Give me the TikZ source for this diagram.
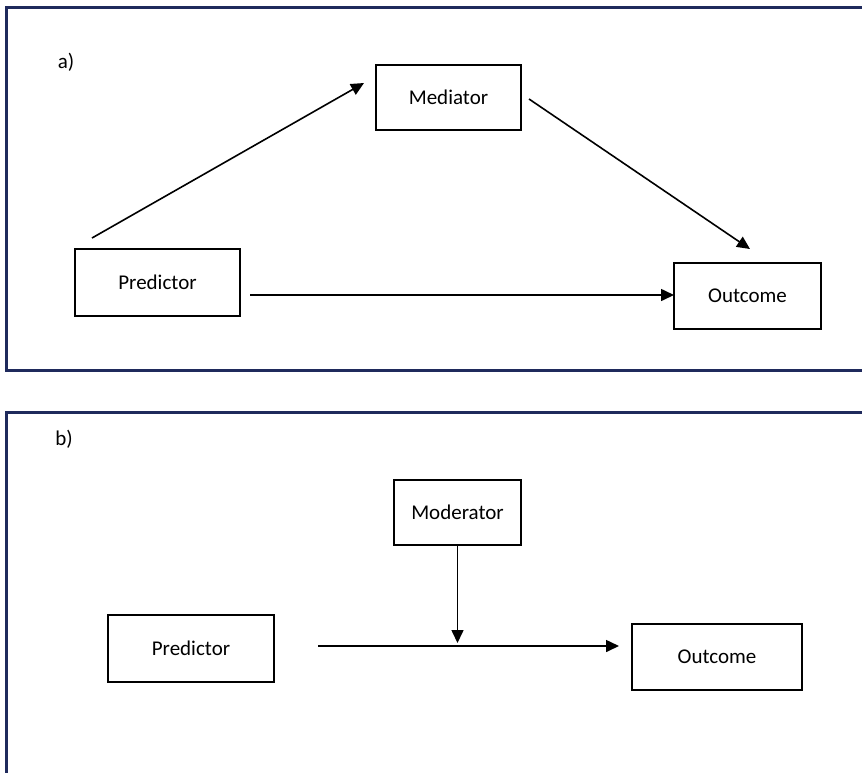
\documentclass[tikz,border=0pt]{standalone}
\usepackage{fontspec}
\setmainfont{Carlito}
\usetikzlibrary{arrows.meta}
\definecolor{framenavy}{HTML}{1F2A5C}
\tikzset{
  box/.style={draw=black, line width=2.6pt, rectangle, inner sep=0pt, font=\fontsize{21}{25}\selectfont},
  arr/.style={line width=1.6pt, -{Triangle[length=13pt,width=12pt]}},
  frame/.style={draw=framenavy, line width=3pt},
  lbl/.style={font=\fontsize{21}{25}\selectfont, inner sep=0pt}
}
\begin{document}
\begin{tikzpicture}[x=1pt,y=-1pt]
\useasboundingbox (0,0) rectangle (862,772);
% frames
\draw[frame] (870,7) -- (6,7) -- (6,370) -- (870,370);
\draw[frame] (870,412) -- (6,412) -- (6,790);
% panel a
\node[lbl] (la) at (66,62) {a)};
\node[box, minimum width=145pt, minimum height=65pt] (med) at (448.5,97.5) {Mediator};
\node[box, minimum width=165pt, minimum height=67pt] (pa) at (157.5,282.5) {Predictor};
\node[box, minimum width=147pt, minimum height=66pt] (oa) at (747.5,296) {Outcome};
\coordinate (pa1) at (92,238);
\coordinate (med1) at (364,83);
\coordinate (med2) at (529,99);
\coordinate (oa1) at (750,249);
\coordinate (pa2) at (250,295);
\coordinate (oa2) at (674,295);
\draw[arr] (pa1) -- (med1);
\draw[arr] (med2) -- (oa1);
\draw[arr] (pa2) -- (oa2);
% panel b
\node[lbl] (lb) at (64,439) {b)};
\node[box, minimum width=127pt, minimum height=65pt] (mod) at (457.5,512.5) {Moderator};
\node[box, minimum width=166pt, minimum height=67pt] (pb) at (191,648.5) {Predictor};
\node[box, minimum width=170pt, minimum height=66pt] (ob) at (717,657) {Outcome};
\coordinate (pb1) at (318,646);
\coordinate (ob1) at (619,646);
\coordinate (mod1) at (457.5,545);
\coordinate (mid) at (457.5,643);
\draw[arr] (pb1) -- (ob1);
\draw[arr] (mod1) -- (mid);
\end{tikzpicture}
\end{document}
